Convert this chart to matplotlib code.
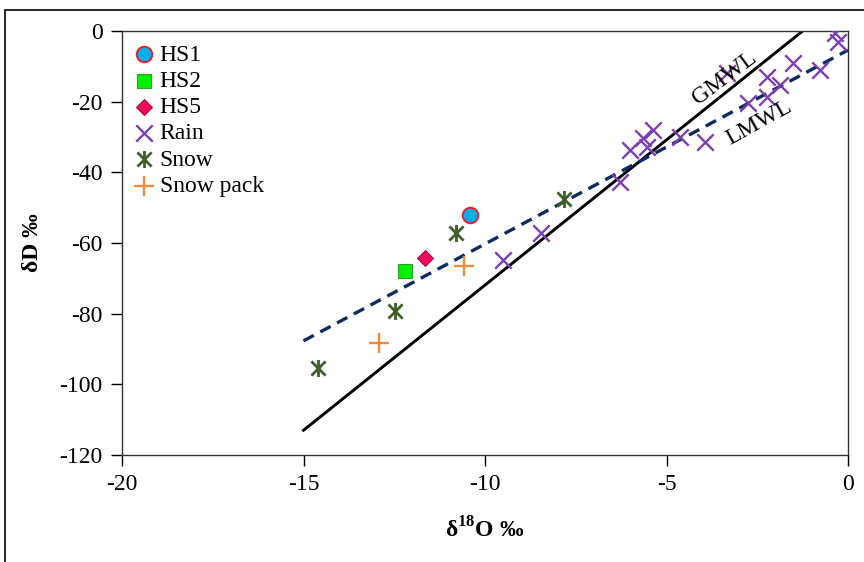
import matplotlib
matplotlib.use("Agg")
import matplotlib.pyplot as plt
from matplotlib.path import Path
from matplotlib.patches import Rectangle

plt.rcParams["font.family"] = ["Liberation Serif", "FreeSerif", "DejaVu Serif"]
plt.rcParams["axes.unicode_minus"] = False
plt.rcParams["mathtext.fontset"] = "custom"
plt.rcParams["mathtext.rm"] = "Liberation Serif"
plt.rcParams["mathtext.bf"] = "Liberation Serif:bold"

# sample values (d18O, dD)
hs1_x = [-10.4]
hs1_y = [-52.0]
hs2_x = [-12.2]
hs2_y = [-68.0]
hs5_x = [-11.65]
hs5_y = [-64.3]
rain_x = [-9.5, -8.46, -6.28, -6.01, -5.65, -5.37, -5.54, -4.63, -3.94, -3.33,
          -2.75, -2.23, -2.23, -1.87, -1.51, -0.77, -0.36, -0.28]
rain_y = [-64.8, -57.2, -42.7, -33.7, -30.3, -28.0, -32.8, -30.0, -31.4, -11.9,
          -20.4, -18.7, -13.0, -15.3, -9.1, -11.0, -0.6, -3.1]
snow_x = [-14.6, -12.48, -10.8, -7.82]
snow_y = [-95.4, -79.3, -57.2, -47.6]
pack_x = [-12.92, -10.58]
pack_y = [-88.3, -66.5]

# meteoric water lines (end points)
gmwl_x = [-15.0, -1.25]
gmwl_y = [-113.0, 0.0]
lmwl_x = [-15.0, 0.0]
lmwl_y = [-87.7, -5.4]

x_ticks = [-20, -15, -10, -5, 0]
y_ticks = [-120, -100, -80, -60, -40, -20, 0]

# excel style star: an x with a vertical bar
star = Path([(-1, -1), (1, 1), (-1, 1), (1, -1), (0, -1.2), (0, 1.2)],
            [Path.MOVETO, Path.LINETO, Path.MOVETO, Path.LINETO, Path.MOVETO, Path.LINETO])

fig = plt.figure(figsize=(8.64, 5.62), dpi=100)
ax = fig.add_axes([0.1412, 0.1904, 0.8403, 0.7544])

ax.plot(gmwl_x, gmwl_y, color="black", lw=2.1, zorder=2)
ax.plot(lmwl_x, lmwl_y, color="#0D2B5E", lw=2.4, ls=(0, (3.5, 2.2)), zorder=2)

ax.scatter(hs1_x, hs1_y, marker="o", s=125, facecolor="#00AEEF", edgecolor="#E8202A",
           linewidth=1.4, label="HS1", zorder=4)
ax.scatter(hs2_x, hs2_y, marker="s", s=115, facecolor="#00F000", edgecolor="#2E9E2E",
           linewidth=0.8, label="HS2", zorder=4)
ax.scatter(hs5_x, hs5_y, marker="D", s=65, facecolor="#F00A5A", edgecolor="#B00040",
           linewidth=0.8, label="HS5", zorder=4)
ax.scatter(rain_x, rain_y, marker="x", s=140, color="#7B3FB0", linewidth=1.7,
           label="Rain", zorder=3)
ax.scatter(snow_x, snow_y, marker=star, s=150, color="#3F5E2A", linewidth=2.0,
           label="Snow", zorder=3)
ax.scatter(pack_x, pack_y, marker="+", s=190, color="#F08C3C", linewidth=1.7,
           label="Snow pack", zorder=3)

ax.text(-3.4, -13.3, "GMWL", fontsize=17, rotation=37, ha="center", va="center")
ax.text(-2.45, -26.0, "LMWL", fontsize=17, rotation=29, ha="center", va="center")

ax.set_xlim(-20, 0)
ax.set_ylim(-120, 0)
ax.set_xticks(x_ticks)
ax.set_yticks(y_ticks)
ax.tick_params(direction="out", length=8, width=1, labelsize=17, pad=6)
for sp in ax.spines.values():
    sp.set_linewidth(1.0)
    sp.set_color("#333333")

ax.set_xlabel(r"δ$^{\mathbf{18}}$O ‰", fontsize=17, fontweight="bold", labelpad=16)
ax.set_ylabel("δD ‰", fontsize=17, fontweight="bold", labelpad=12)

leg = ax.legend(loc="upper left", bbox_to_anchor=(0.0, 1.0), frameon=False, fontsize=17,
                handlelength=0.8, handletextpad=0.25, labelspacing=0.2,
                borderaxespad=0.15, scatterpoints=1)

fig.patches.append(Rectangle((5 / 864, -0.1), 1.2, 1.0 + 0.1 - 10 / 562, transform=fig.transFigure,
                             fill=False, edgecolor="black", linewidth=1.2))

fig.savefig("out.png", dpi=100)
